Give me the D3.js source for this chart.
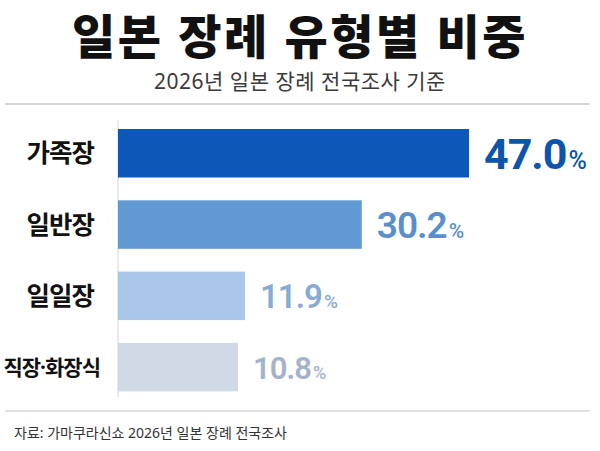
<!DOCTYPE html>
<html>
<head>
<meta charset="utf-8">
<title>일본 장례 유형별 비중</title>
<style>
  body { margin: 0; background: #fff; }
  svg { display: block; }
</style>
</head>
<body>
<div id="chart"></div>
<script src="https://cdn.jsdelivr.net/npm/d3@7/dist/d3.min.js"></script>
<script>
  // data
  var categories = ["가족장", "일반장", "일일장", "직장·화장식"];
  var shares = [47.0, 30.2, 11.9, 10.8];
  var title = "일본 장례 유형별 비중";
  var subtitle = "2026년 일본 장례 전국조사 기준";
  var source = "자료: 가마쿠라신쇼 2026년 일본 장례 전국조사";

  var barColors = ["#0b58b8", "#6199d3", "#a9c7e8", "#d0d9e6"];
  var textColors = ["#0c55aa", "#5a8fc9", "#88abd4", "#a4b3c9"];
  var valueSizes = [43, 37, 33, 31];

  var W = 600, H = 451;
  var kr = "'Noto Sans', 'Noto Sans CJK KR', sans-serif";
  var num = "Roboto, 'Noto Sans', sans-serif";

  var svg = d3.select("#chart").append("svg")
    .attr("width", W)
    .attr("height", H);

  svg.append("text")
    .attr("x", W / 2).attr("y", 54)
    .attr("text-anchor", "middle")
    .style("font-family", kr).style("font-weight", 900)
    .style("font-size", "47px").style("letter-spacing", "2.5px")
    .style("fill", "#111")
    .text(title);

  svg.append("text")
    .attr("x", W / 2).attr("y", 89)
    .attr("text-anchor", "middle")
    .style("font-family", kr).style("font-weight", 400)
    .style("font-size", "21px").style("letter-spacing", "0.5px")
    .style("fill", "#3a3a3a")
    .text(subtitle);

  svg.append("line")
    .attr("x1", 5).attr("x2", 590).attr("y1", 104).attr("y2", 104)
    .style("stroke", "#d6d6d6").style("stroke-width", 2);

  svg.append("line")
    .attr("x1", 5).attr("x2", 590).attr("y1", 411).attr("y2", 411)
    .style("stroke", "#d6d6d6").style("stroke-width", 1.5);

  // scales
  var x = d3.scaleLinear().domain([-8, 47]).range([118, 469]);
  var y = d3.scaleBand().domain(categories).range([117.6, 402.8])
    .paddingInner(0.32).paddingOuter(0.16);

  var data = categories.map(function(c, i) { return {cat: c, v: shares[i], i: i}; });

  svg.append("line")
    .attr("x1", 118).attr("x2", 118).attr("y1", 120).attr("y2", 397)
    .style("stroke", "#e2e2e2").style("stroke-width", 1.5);

  svg.selectAll("rect.bar")
    .data(data)
    .enter().append("rect")
      .attr("class", "bar")
      .attr("x", x(-8))
      .attr("y", function(d) { return y(d.cat); })
      .attr("width", function(d) { return x(d.v) - x(-8); })
      .attr("height", y.bandwidth())
      .style("fill", function(d) { return barColors[d.i]; });

  // category labels
  svg.selectAll("text.cat")
    .data(data)
    .enter().append("text")
      .attr("class", "cat")
      .attr("x", function(d) { return d.i == 3 ? 100 : 94; })
      .attr("y", function(d) { return y(d.cat) + y.bandwidth() / 2; })
      .attr("text-anchor", "end")
      .style("font-family", kr).style("font-weight", 700)
      .style("font-size", function(d) { return d.i == 3 ? "21px" : "25.5px"; })
      .style("letter-spacing", "-1px")
      .attr("dy", "0.36em")
      .style("fill", "#111")
      .text(function(d) { return d.cat; });

  // value labels
  var vl = svg.selectAll("text.val")
    .data(data)
    .enter().append("text")
      .attr("class", "val")
      .attr("x", function(d) { return x(d.v) + 15; })
      .attr("y", function(d) { return y(d.cat) + y.bandwidth() / 2; })
      .style("font-family", num)
      .style("font-size", function(d) { return valueSizes[d.i] + "px"; })
      .attr("dy", "0.37em")
      .style("font-weight", function(d) { return d.i == 0 ? 700 : 600; })
      .style("letter-spacing", "-1px")
      .style("fill", function(d) { return textColors[d.i]; });

  vl.append("tspan")
    .text(function(d) { return d.v.toFixed(1); });
  vl.append("tspan")
    .attr("dx", 2)
    .style("font-size", function(d) { return Math.round(valueSizes[d.i] * 0.58) + "px"; })
    .style("font-weight", 500)
    .style("letter-spacing", "0px")
    .text("%");

  svg.append("text")
    .attr("x", 14).attr("y", 438)
    .style("font-family", kr).style("font-weight", 400)
    .style("font-size", "14px").style("fill", "#333")
    .text(source);
</script>
</body>
</html>
